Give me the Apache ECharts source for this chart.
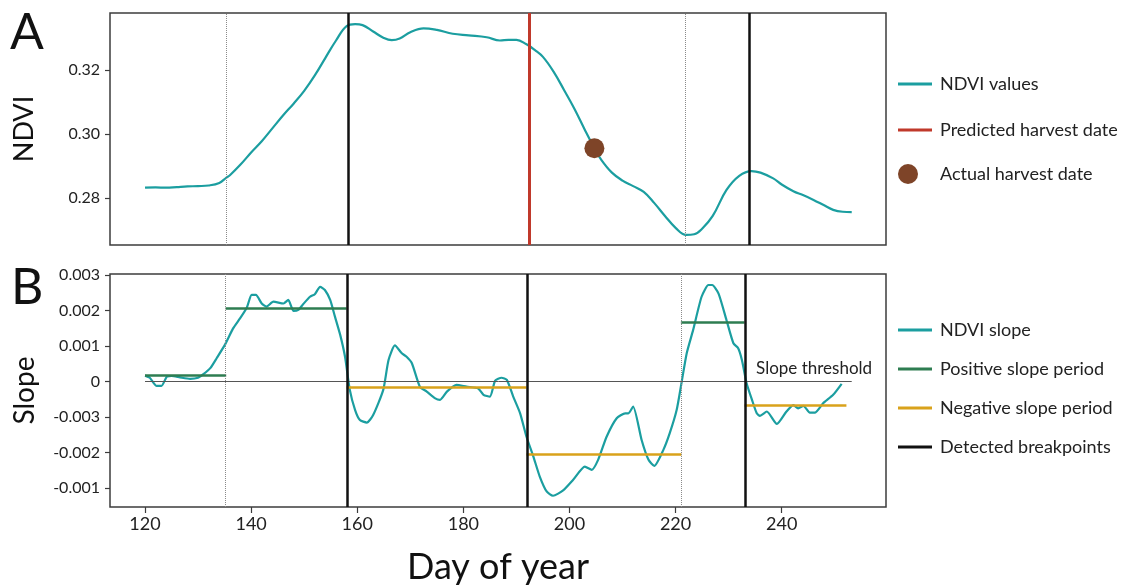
<!DOCTYPE html>
<html><head><meta charset="utf-8">
<script src="https://cdn.jsdelivr.net/npm/echarts@6/dist/echarts.min.js"></script>
<style>html,body{margin:0;padding:0;background:#fff}#c{width:1127px;height:587px}</style>
</head><body><div id="c"></div>
<script>
// ---- data ----
const ndviDays = [120,122,124,126,128,130,132,134,135.3,136,138,140,142,144,146,148,150,152,154,156,158,159.6,161,163,165,166.5,168,170,172.5,175,178,181,184.4,186.9,188.5,190,191.9,193.5,195,197,199,201,203,204.7,206,208,210,212,214,216,218,220,222,223.5,225,227,229.6,232,234.3,236,238.4,240,242.2,244,246,248,249.7,251.5,253.2];
const ndviValues = [0.2833,0.2834,0.2833,0.2835,0.2837,0.2838,0.2840,0.2848,0.2864,0.2872,0.2905,0.2943,0.2978,0.3018,0.3058,0.3095,0.3135,0.3183,0.3238,0.3292,0.3337,0.3343,0.3340,0.3320,0.3300,0.3293,0.3298,0.3318,0.3330,0.3325,0.3313,0.3308,0.3302,0.3292,0.3294,0.3294,0.3280,0.3262,0.3241,0.3195,0.3137,0.3077,0.3010,0.2956,0.2920,0.2880,0.2855,0.2838,0.2820,0.2785,0.2745,0.2708,0.2686,0.2688,0.2705,0.2745,0.2826,0.2870,0.2885,0.2880,0.2862,0.2843,0.2822,0.2810,0.2795,0.2778,0.2764,0.2758,0.2757];
const predictedHarvest = 192.5;
const actualHarvest = [204.7, 0.2956];
const breaksA = [158.3, 233.8];
const dottedA = [135.3, 221.8];

const slopeDays = [120,120.9,122.2,123.1,124.1,125,126.6,128.5,130,131,132.3,133.5,135.1,136.6,137.9,139.2,140.1,140.9,142,142.9,144.2,146.1,147,148,148.9,149.8,151.1,152,153,153.9,154.9,155.8,156.8,157.7,158.6,159.6,160.5,161.8,163,164.9,165.9,167.1,168.4,169.3,170.3,171.8,173.1,174.7,175.6,176.9,178.7,180.6,182.8,183.8,185,186,187.2,188.2,189.4,190.7,191.9,193.2,194.4,195.7,196.9,198.8,200.7,202.9,204.2,205.4,207,208.9,210.5,211.1,212,213.6,214.9,216,217.7,218.9,220.2,221.1,222.1,223.3,224.9,226.2,226.9,228.1,229.6,230.9,231.8,232.5,233.4,234.4,235.3,235.9,237.2,239.1,240.9,242.2,243.1,244.1,245.3,246.3,247.8,249.7,251.3];
const slopeValues = [0.00017,0.00011,-0.00012,-0.00012,0.00014,0.00016,0.00012,0.00008,0.00011,0.00021,0.00038,0.00066,0.00105,0.0015,0.00178,0.00209,0.00244,0.00244,0.0022,0.00211,0.00225,0.0022,0.0023,0.00199,0.00202,0.00218,0.00239,0.00246,0.00267,0.00258,0.0023,0.00183,0.00131,0.0007,-0.00023,-0.0008,-0.00108,-0.00115,-0.00094,-0.00023,0.00061,0.00102,0.0008,0.0007,0.00052,-0.00014,-0.00028,-0.00047,-0.00051,-0.00028,-0.00009,-0.00014,-0.00019,-0.00037,-0.00042,0.00003,0.00011,0.00005,-0.00042,-0.00089,-0.00155,-0.00211,-0.00267,-0.00309,-0.00321,-0.00306,-0.00276,-0.00239,-0.00248,-0.0022,-0.00155,-0.00103,-0.00089,-0.00089,-0.0007,-0.00164,-0.0022,-0.00237,-0.00192,-0.00145,-0.0008,-0.00005,0.0008,0.00145,0.00239,0.00272,0.00272,0.00248,0.00173,0.00108,0.00094,0.00061,-0.00005,-0.00051,-0.00089,-0.00096,-0.00084,-0.00119,-0.00084,-0.00066,-0.00075,-0.00068,-0.00087,-0.00087,-0.00061,-0.00037,-0.00006];
const posStart = [120, 135.2, 221.0];
const posEnd   = [135.3, 158.0, 233.0];
const posValue = [0.00019, 0.00207, 0.00167];
const negStart = [158.0, 191.9, 233.0];
const negEnd   = [191.9, 221.1, 252.2];
const negValue = [-0.00017, -0.00204, -0.00066];
const breaksB = [158.1, 192.0, 233.1];
const dottedB = [135.1, 221.1];
const thresholdRange = [120, 253.2];
const thresholdValue = 0;

const xTicks = [120,140,160,180,200,220,240];
const ndviTicks = [0.28,0.30,0.32];
const ndviTickLabels = ['0.28','0.30','0.32'];
const slopeTickValues = [0.003,0.002,0.001,0,-0.001,-0.002,-0.003];
const slopeTickLabels = ['0.003','0.002','0.001','0','-0.003','-0.002','-0.001'];

// ---- chart ----
const FONT = 'Lato';
const TEAL = '#1b9ea0', RED = '#c0392b', BROWN = '#7e4428', GREEN = '#2e7d51', ORANGE = '#d9a21b';
const chart = echarts.init(document.getElementById('c'), null, {renderer:'canvas'});

function vlines(vals, style){
  return vals.map(v => ({xAxis: v, lineStyle: style}));
}
const mlBase = {silent:true, symbol:['none','none'], label:{show:false}, animation:false};

const option = {
  animation:false,
  textStyle:{fontFamily:FONT},
  grid:[
    {left:110, top:13, width:776, height:232, show:true, borderColor:'#3c3c3c', borderWidth:1.5, backgroundColor:'transparent'},
    {left:110, top:274, width:776, height:233, show:true, borderColor:'#3c3c3c', borderWidth:1.5, backgroundColor:'transparent'}
  ],
  xAxis:[
    {type:'value', gridIndex:0, min:113.4, max:259.66, axisLine:{show:false, onZero:false}, axisTick:{show:false}, axisLabel:{show:false}, splitLine:{show:false}},
    {type:'value', gridIndex:1, min:113.4, max:259.66, axisLine:{show:false, onZero:false},
     axisTick:{show:true, length:6, lineStyle:{color:'#3c3c3c', width:1.2}, customValues:xTicks},
     axisLabel:{customValues:xTicks, fontSize:18, color:'#222', margin:8, fontFamily:FONT},
     splitLine:{show:false},
     name:'Day of year', nameLocation:'middle', nameGap:42, nameTextStyle:{fontSize:36, color:'#111', fontFamily:FONT}}
  ],
  yAxis:[
    {type:'value', gridIndex:0, min:0.26544, max:0.33777, axisLine:{show:false, onZero:false},
     axisTick:{show:true, length:5, lineStyle:{color:'#3c3c3c', width:1.2}, customValues:ndviTicks},
     axisLabel:{customValues:ndviTicks, fontSize:16, color:'#222', margin:10, fontFamily:FONT,
       formatter:v => { const i = ndviTicks.findIndex(t => Math.abs(t-v)<1e-6); return i>=0?ndviTickLabels[i]:''; }},
     splitLine:{show:false},
     name:'NDVI', nameLocation:'middle', nameRotate:90, nameGap:72, nameTextStyle:{fontSize:27, color:'#111', fontFamily:FONT}},
    {type:'value', gridIndex:1, min:-0.003527, max:0.00303, axisLine:{show:false, onZero:false},
     axisTick:{show:true, length:5, lineStyle:{color:'#3c3c3c', width:1.2}, customValues:slopeTickValues},
     axisLabel:{customValues:slopeTickValues, fontSize:16, color:'#222', margin:10, fontFamily:FONT,
       formatter:v => { const i = slopeTickValues.findIndex(t => Math.abs(t-v)<1e-7); return i>=0?slopeTickLabels[i]:''; }},
     splitLine:{show:false},
     name:'Slope', nameLocation:'middle', nameRotate:90, nameGap:71, nameTextStyle:{fontSize:28, color:'#111', fontFamily:FONT}}
  ],
  legend:[
    {orient:'vertical', left:898, top:75, padding:0, itemWidth:34, itemHeight:3, itemGap:28, icon:'rect',
     textStyle:{fontSize:18, color:'#222', fontFamily:FONT, padding:[0,0,0,3]},
     data:['NDVI values','Predicted harvest date'], selectedMode:false},
    {orient:'vertical', left:898, top:164, padding:0, itemWidth:34, itemHeight:20, icon:'circle',
     textStyle:{fontSize:18, color:'#222', fontFamily:FONT, padding:[0,0,0,10]},
     data:['Actual harvest date'], selectedMode:false},
    {orient:'vertical', left:898, top:321, padding:0, itemWidth:34, itemHeight:3, itemGap:21, icon:'rect',
     textStyle:{fontSize:18, color:'#222', fontFamily:FONT, padding:[0,0,0,3]},
     data:['NDVI slope','Positive slope period','Negative slope period','Detected breakpoints'], selectedMode:false}
  ],
  graphic:[
    {type:'text', left:10, top:8, style:{text:'A', fontSize:50, fontFamily:FONT, fill:'#111'}},
    {type:'text', left:11, top:263, style:{text:'B', fontSize:50, fontFamily:FONT, fill:'#111'}}
  ],
  series:[
    // Panel A
    {name:'bpA', type:'line', xAxisIndex:0, yAxisIndex:0, data:[], z:4,
     markLine:Object.assign({}, mlBase, {data:[
       ...vlines(dottedA, {color:'#8a8a8a', width:1, type:'dotted'}),
       ...vlines(breaksA, {color:'#111', width:2.5, type:'solid'})
     ]})},
    {name:'NDVI values', type:'line', xAxisIndex:0, yAxisIndex:0, color:TEAL, showSymbol:false, smooth:0.4,
     lineStyle:{width:2.2, color:TEAL}, z:3,
     data: ndviDays.map((d,i)=>[d, ndviValues[i]])},
    {name:'Predicted harvest date', type:'line', xAxisIndex:0, yAxisIndex:0, color:RED, data:[], z:5,
     markLine:Object.assign({}, mlBase, {data:[{xAxis:predictedHarvest, lineStyle:{color:RED, width:3, type:'solid'}}]})},
    {name:'Actual harvest date', type:'scatter', xAxisIndex:0, yAxisIndex:0, color:BROWN, symbolSize:20, z:6,
     itemStyle:{color:BROWN, opacity:1}, data:[actualHarvest]},
    // Panel B
    {name:'threshold', type:'line', xAxisIndex:1, yAxisIndex:1, data:[], z:2,
     markLine:Object.assign({}, mlBase, {data:[[{coord:[thresholdRange[0], thresholdValue]},{coord:[thresholdRange[1], thresholdValue]}]],
       lineStyle:{color:'#555', width:1, type:'solid'}}),
     markPoint:{silent:true, symbol:'circle', symbolSize:0, animation:false,
       data:[{coord:[246.1, thresholdValue], label:{show:true, formatter:'Slope threshold', position:'inside', offset:[0,-13], fontSize:17, color:'#222', fontFamily:FONT}}]}},
    {name:'Positive slope period', type:'line', xAxisIndex:1, yAxisIndex:1, color:GREEN, data:[], z:3,
     markLine:Object.assign({}, mlBase, {lineStyle:{color:GREEN, width:2.5, type:'solid'},
       data: posStart.map((s,i)=>[{coord:[s,posValue[i]]},{coord:[posEnd[i],posValue[i]]}])})},
    {name:'Negative slope period', type:'line', xAxisIndex:1, yAxisIndex:1, color:ORANGE, data:[], z:3,
     markLine:Object.assign({}, mlBase, {lineStyle:{color:ORANGE, width:2.5, type:'solid'},
       data: negStart.map((s,i)=>[{coord:[s,negValue[i]]},{coord:[negEnd[i],negValue[i]]}])})},
    {name:'NDVI slope', type:'line', xAxisIndex:1, yAxisIndex:1, color:TEAL, showSymbol:false, smooth:0.2,
     lineStyle:{width:2.2, color:TEAL}, z:4,
     data: slopeDays.map((d,i)=>[d, slopeValues[i]])},
    {name:'Detected breakpoints', type:'line', xAxisIndex:1, yAxisIndex:1, color:'#111', data:[], z:5,
     markLine:Object.assign({}, mlBase, {data:[
       ...vlines(dottedB, {color:'#8a8a8a', width:1, type:'dotted'}),
       ...vlines(breaksB, {color:'#111', width:2.5, type:'solid'})
     ]})}
  ]
};
chart.setOption(option);
</script></body></html>
